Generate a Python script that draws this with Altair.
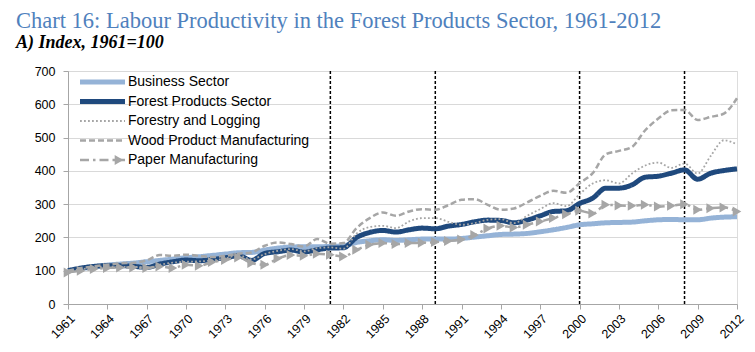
import altair as alt
import pandas as pd

years = list(range(1961, 2013))
series_names = ["Business Sector", "Forest Products Sector", "Forestry and Logging",
                "Wood Product Manufacturing", "Paper Manufacturing"]

business = [100, 106, 112, 117, 120, 123, 127, 131, 135, 139, 142, 146, 150, 154, 155, 162, 168, 171, 172, 172,
            173, 175, 185, 190, 193, 191, 193, 195, 195, 195, 197, 201, 205, 209, 210, 212, 217, 223, 230, 238,
            241, 244, 245, 246, 250, 253, 254, 253, 253, 258, 261, 262]
forest = [100, 108, 113, 115, 115, 113, 110, 120, 127, 132, 130, 134, 139, 145, 131, 152, 157, 162, 156, 163,
          168, 169, 200, 215, 221, 216, 223, 228, 226, 234, 239, 247, 252, 251, 244, 252, 265, 278, 280, 302,
          318, 348, 348, 358, 381, 384, 393, 403, 375, 393, 401, 406]
forestry = [100, 104, 110, 113, 111, 112, 109, 118, 124, 127, 128, 131, 137, 147, 134, 150, 160, 165, 158, 168,
            170, 166, 212, 231, 235, 228, 248, 258, 258, 247, 238, 243, 253, 255, 243, 265, 285, 303, 294, 330,
            362, 372, 362, 392, 416, 425, 409, 422, 392, 445, 492, 479]
wood = [100, 108, 113, 118, 122, 124, 131, 147, 145, 148, 145, 141, 145, 151, 155, 175, 185, 180, 173, 195,
        181, 183, 228, 258, 275, 265, 278, 285, 283, 297, 313, 315, 298, 283, 287, 305, 325, 340, 334, 363,
        393, 450, 460, 472, 522, 557, 582, 583, 553, 562, 572, 618]
paper = [95, 100, 105, 108, 110, 110, 108, 113, 108, 118, 115, 126, 132, 140, 123, 118, 137, 147, 145, 151,
         148, 143, 163, 178, 183, 180, 183, 184, 186, 189, 194, 207, 227, 235, 230, 238, 248, 258, 270, 280,
         272, 298, 296, 295, 298, 293, 295, 300, 283, 288, 290, 278]
recession_years = [1981, 1989, 2000, 2008]
x_ticks = list(range(1961, 2013, 3))
y_ticks = [0, 100, 200, 300, 400, 500, 600, 700]

colors = ["#95B3D7", "#1F497D", "#A6A6A6", "#A6A6A6", "#A6A6A6"]
dashes = [[1, 0], [1, 0], [1.8, 2.2], [6, 3], [9, 4, 2.5, 4]]
widths = [5, 5, 1.8, 2.5, 2.5]

values = [business, forest, forestry, wood, paper]
rows = []
for name, vals in zip(series_names, values):
    for y, v in zip(years, vals):
        rows.append({"year": y, "value": v, "series": name})
df = pd.DataFrame(rows)
paper_df = df[df["series"] == "Paper Manufacturing"]
rec_df = pd.DataFrame({"year": recession_years})
leg_df = pd.DataFrame({"series": series_names})

x_enc = alt.X("year:Q", scale=alt.Scale(domain=[1961, 2012], nice=False, zero=False),
              axis=alt.Axis(values=x_ticks, format="d", labelAngle=-45, title=None, grid=False,
                            labelFontSize=12.5, labelFont="Liberation Sans", labelColor="#000000",
                            tickSize=5, tickColor="#A6A6A6", domainColor="#A6A6A6", labelPadding=3))
y_enc = alt.Y("value:Q", scale=alt.Scale(domain=[0, 700], nice=False),
              axis=alt.Axis(values=y_ticks, title=None, grid=True, gridColor="#D9D9D9",
                            labelFontSize=12.5, labelFont="Liberation Sans", labelColor="#000000",
                            tickSize=5, tickColor="#A6A6A6", domainColor="#A6A6A6", labelPadding=8))

color_enc = alt.Color("series:N", scale=alt.Scale(domain=series_names, range=colors), legend=None)
dash_enc = alt.StrokeDash("series:N", scale=alt.Scale(domain=series_names, range=dashes), legend=None)
width_enc = alt.StrokeWidth("series:N", scale=alt.Scale(type="ordinal", domain=series_names, range=widths),
                            legend=None)

lines = alt.Chart(df).mark_line(interpolate="monotone").encode(
    x=x_enc, y=y_enc, detail="series:N", color=color_enc, strokeDash=dash_enc, strokeWidth=width_enc
)

arrows = alt.Chart(paper_df).mark_point(shape="triangle-right", filled=True, size=100,
                                         color="#A6A6A6", opacity=1).encode(x=x_enc, y=y_enc)

rules = alt.Chart(rec_df).mark_rule(color="#000000", strokeDash=[3, 2], strokeWidth=1.5).encode(x=x_enc)

main = alt.layer(rules, lines, arrows)

# legend (inside plot, top-left)
leg_y = alt.Y("series:N", scale=alt.Scale(type="point", domain=series_names, range=[11, 89], padding=0),
              axis=None)
leg_lines = alt.Chart(leg_df).mark_rule().encode(
    x=alt.value(12), x2=alt.value(57), y=leg_y,
    color=color_enc, strokeDash=dash_enc, strokeWidth=width_enc
)
leg_arrow = alt.Chart(leg_df[leg_df["series"] == "Paper Manufacturing"]).mark_point(
    shape="triangle-right", filled=True, size=100, color="#A6A6A6", opacity=1
).encode(x=alt.value(51), y=leg_y)
leg_text = alt.Chart(leg_df).mark_text(align="left", baseline="middle", fontSize=14,
                                        font="Liberation Sans", color="#000000").encode(
    x=alt.value(60), y=leg_y, text="series:N"
)
legend_layer = alt.layer(leg_lines, leg_arrow, leg_text)

chart = alt.layer(main, legend_layer).resolve_scale(y="independent").properties(
    width=669, height=233,
    autosize=alt.AutoSizeParams(type="none"),
    padding={"left": 68, "top": 71, "right": 18, "bottom": 48},
    title=alt.TitleParams(
        text="Chart 16: Labour Productivity in the Forest Products Sector, 1961-2012",
        subtitle="A) Index, 1961=100",
        anchor="start", frame="group", dx=-52, offset=13,
        font="Liberation Serif", fontSize=22.5, fontWeight="normal", color="#4F81BD",
        subtitleFont="Liberation Serif", subtitleFontSize=18, subtitleFontStyle="italic",
        subtitleFontWeight="bold", subtitleColor="#000000", subtitlePadding=2,
    ),
).configure_view(stroke=None).configure(background="white")

chart.save("out.html", embed_options={"renderer": "svg", "actions": False})
